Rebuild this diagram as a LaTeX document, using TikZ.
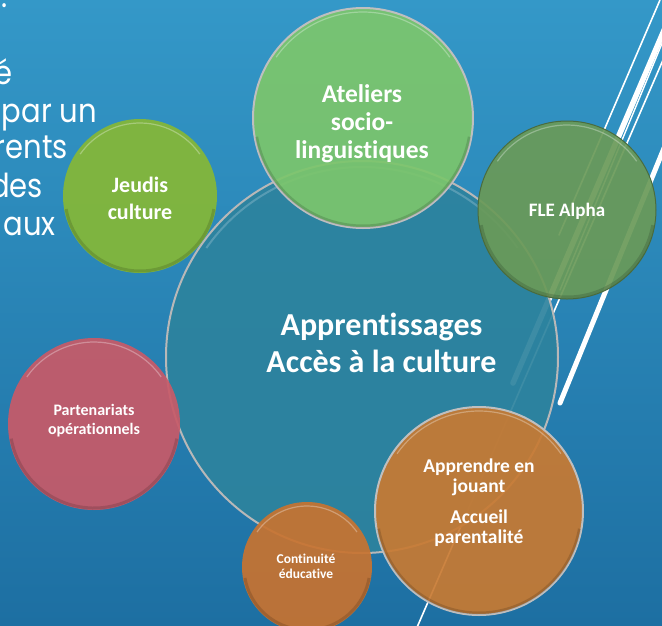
\documentclass[tikz,border=0pt]{standalone}
\usepackage{fontspec}
\setmainfont{Carlito}[Ligatures=CommonOff]
\newfontfamily\gothic{Poppins}[FakeStretch=0.88]
\definecolor{bgtop}{HTML}{3498C8}
\definecolor{bgbot}{HTML}{1D6FA2}
\definecolor{centralfill}{HTML}{2D839E}
\definecolor{atelfill}{HTML}{7CC66C}
\definecolor{jeudfill}{HTML}{86B836}
\definecolor{flefill}{HTML}{6A9A58}
\definecolor{partfill}{HTML}{C85A68}
\definecolor{contfill}{HTML}{C87330}
\definecolor{apprfill}{HTML}{C87A32}
\definecolor{rimgray}{HTML}{B8B8B8}
\begin{document}
\begin{tikzpicture}[x=1pt,y=-1pt,
  bub/.style={circle, minimum size=#1, inner sep=0pt, fill opacity=.92},
  lab/.style args={#1/#2}{text=white, align=center, font=\bfseries\fontsize{#1}{#2}\selectfont},
  bgline/.style={white, line cap=round},
  side/.style={text=white, anchor=base east, inner sep=0pt, font=\gothic\fontsize{33}{38}\selectfont},
]
\useasboundingbox (0,0) rectangle (662,625);
\clip (0,0) rectangle (662,625);
\shade[top color=bgtop, bottom color=bgbot] (0,0) rectangle (662,625);

% background diagonal lines
\coordinate (l1a) at (660,0);   \coordinate (l1b) at (559,235);
\coordinate (l2a) at (677,0);   \coordinate (l2b) at (513,383);
\coordinate (l3a) at (680,0);   \coordinate (l3b) at (560,290);
\coordinate (l4a) at (700,60);  \coordinate (l4b) at (560,403);
\coordinate (l5a) at (689,0);   \coordinate (l5b) at (415,632);
\draw[bgline, line width=1.6] (l1a) -- (l1b);
\draw[bgline, line width=5.5] (l2a) -- (l2b);
\draw[bgline, line width=1.4] (l3a) -- (l3b);
\draw[bgline, line width=5] (l4a) -- (l4b);
\draw[bgline, line width=1.6] (l5a) -- (l5b);

% side text (cut by the left edge)
\node[text=white, anchor=base, inner sep=0pt, font=\gothic\fontsize{33}{38}\selectfont] (dot) at (4.5,7.5) {.};
\node[side] (s1) at (13,84) {é};
\node[side] (s2) at (97,122) {par un};
\node[side] (s3) at (68,158) {rents};
\node[side] (s4) at (43,197) {des};
\node[side] (s5) at (56,235) {aux};

% central circle
\node[bub=392pt, fill=centralfill, draw=rimgray, line width=2pt, draw opacity=1] (c) at (362,357) {};
\draw[white, opacity=.2, line width=2pt] (c.center) ++(-145:190) arc[start angle=-145, end angle=-35, radius=190];

% satellites
\node[bub=220pt, fill=atelfill, draw=rimgray!90!white, line width=2pt, draw opacity=1] (at) at (363,118) {};
\node[bub=154pt, fill=jeudfill] (je) at (140,196) {};
\node[bub=178pt, fill=flefill, draw=flefill!70!black, line width=1pt, draw opacity=1] (fl) at (567,210) {};
\node[bub=172pt, fill=partfill] (pa) at (94,424) {};
\node[bub=130pt, fill=contfill] (co) at (307,567) {};
\node[bub=208pt, fill=apprfill, draw=rimgray!90!white, line width=2pt, draw opacity=1] (ap) at (479,511) {};

% glossy rims
\foreach \n/\r in {at/110, je/77, fl/89, pa/86, co/65, ap/104}{
  \draw[white, opacity=.3, line width=1.2pt] (\n.center) ++(-145:\r-4) arc[start angle=-145, end angle=-35, radius=\r-4];
  \draw[black, opacity=.14, line width=3pt] (\n.center) ++(10:\r-2) arc[start angle=10, end angle=170, radius=\r-2];
}

% labels (anchor = baseline of the last line)
\node[lab=32/37, anchor=base] (tc) at (381.5,372) {Apprentissages\\Accès à la culture};
\node[lab=25.5/28, anchor=base] (ta) at (362,158) {Ateliers\\socio-\\linguistiques};
\node[lab=22/27, anchor=base] (tj) at (140,219) {Jeudis\\culture};
\node[lab=19/22, anchor=base] (tf) at (567,216) {FLE Alpha};
\node[lab=16/19, anchor=base] (tp) at (94,434) {Partenariats\\opérationnels};
\node[lab=13.5/15, anchor=base] (tco) at (306,578) {Continuité\\éducative};
\node[lab=19.5/20, anchor=base] (tap) at (479,543) {Apprendre en\\jouant\\[11pt]Accueil\\parentalité};
\end{tikzpicture}
\end{document}
